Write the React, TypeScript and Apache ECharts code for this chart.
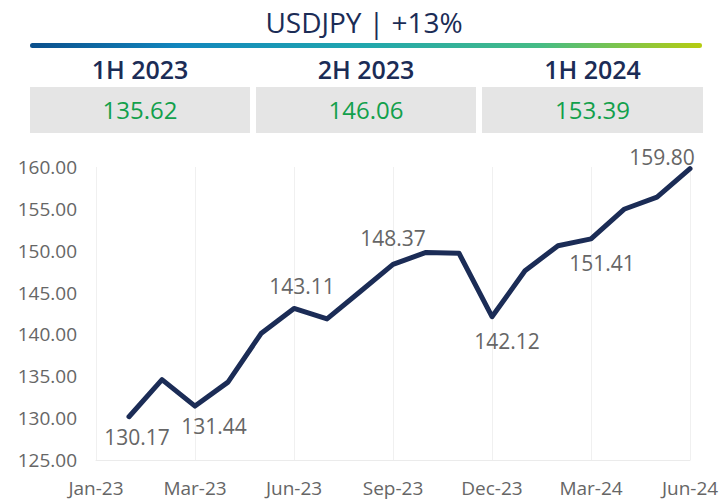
import React, { useEffect, useRef } from "react";
import * as echarts from "echarts";

const titleText = "USDJPY | +13%";
const periodLabels = ["1H 2023", "2H 2023", "1H 2024"];
const periodValues = [135.62, 146.06, 153.39];

const categories = [
  "Dec-22", "Jan-23", "Feb-23", "Mar-23", "Apr-23", "May-23", "Jun-23",
  "Jul-23", "Aug-23", "Sep-23", "Oct-23", "Nov-23", "Dec-23",
  "Jan-24", "Feb-24", "Mar-24", "Apr-24", "May-24", "Jun-24",
];
const values: (number | null)[] = [
  null, 130.17, 134.6, 131.44, 134.3, 140.1, 143.11,
  141.85, 145.1, 148.37, 149.8, 149.7, 142.12,
  147.6, 150.6, 151.41, 154.95, 156.4, 159.8,
];
const xTickLabels = ["Jan-23", "Mar-23", "Jun-23", "Sep-23", "Dec-23", "Mar-24", "Jun-24"];
const yMin = 125;
const yMax = 160;
const yStep = 5;

// which points carry a value label, and where (offset of label centre from the point)
const labelOffsets: Record<number, [number, number]> = {
  1: [8, 20],
  3: [19, 20],
  6: [8, -22],
  9: [0, -26],
  12: [15, 24],
  15: [11, 24],
  18: [-28, -12],
};

const FONT = "'Open Sans', 'Noto Sans', sans-serif";
const NAVY = "#1B2C56";
const GREY_TEXT = "#666666";
const GREEN = "#12A04C";

export default function App() {
  const ref = useRef<HTMLDivElement>(null);

  useEffect(() => {
    document.body.style.margin = "0";
    if (!ref.current) return;
    const chart = echarts.init(ref.current, null, { renderer: "svg" });

    const boxes = [
      { x: 30, w: 220 },
      { x: 256, w: 220 },
      { x: 482, w: 221 },
    ];

    const graphic: any[] = [
      {
        type: "text",
        x: 364,
        y: 22,
        style: {
          text: titleText,
          font: `500 28px ${FONT}`,
          fill: NAVY,
          align: "center",
          verticalAlign: "middle",
        },
      },
      {
        type: "rect",
        shape: { x: 30, y: 43, width: 672, height: 5, r: 2.5 },
        style: {
          fill: new echarts.graphic.LinearGradient(0, 0, 1, 0, [
            { offset: 0, color: "#0B4F8C" },
            { offset: 0.22, color: "#1286BD" },
            { offset: 0.49, color: "#20A6AE" },
            { offset: 0.76, color: "#46BC85" },
            { offset: 1, color: "#B6CC10" },
          ]),
        },
      },
    ];
    boxes.forEach((b, i) => {
      graphic.push({
        type: "rect",
        shape: { x: b.x, y: 87, width: b.w, height: 46 },
        style: { fill: "#E5E5E5" },
      });
      graphic.push({
        type: "text",
        x: b.x + b.w / 2,
        y: 69,
        style: {
          text: periodLabels[i],
          font: `600 25px ${FONT}`,
          fill: NAVY,
          align: "center",
          verticalAlign: "middle",
        },
      });
      graphic.push({
        type: "text",
        x: b.x + b.w / 2,
        y: 109,
        style: {
          text: periodValues[i].toFixed(2),
          font: `400 24px ${FONT}`,
          fill: GREEN,
          align: "center",
          verticalAlign: "middle",
        },
      });
    });

    const seriesData = values.map((v, i) => {
      const off = labelOffsets[i];
      if (!off || v === null) return v;
      return {
        value: v,
        label: {
          show: true,
          position: "inside",
          offset: off,
          formatter: (p: any) => Number(p.value).toFixed(2),
        },
      };
    });

    chart.setOption({
      animation: false,
      grid: { left: 96, right: 36, top: 167, bottom: 44, containLabel: false },
      graphic,
      xAxis: {
        type: "category",
        data: categories,
        boundaryGap: false,
        axisLine: { show: true, lineStyle: { color: "#EBEBEB", width: 1 } },
        axisTick: { show: false },
        axisLabel: {
          interval: 2,
          margin: 18,
          color: GREY_TEXT,
          fontFamily: FONT,
          fontSize: 19,
          formatter: (_v: string, idx: number) => xTickLabels[Math.round(idx / 3)] ?? "",
        },
        splitLine: { show: true, interval: 2, lineStyle: { color: "#F0F0F0", width: 1 } },
      },
      yAxis: {
        type: "value",
        min: yMin,
        max: yMax,
        interval: yStep,
        axisLine: { show: false },
        axisTick: { show: false },
        splitLine: { show: false },
        axisLabel: {
          margin: 19,
          color: GREY_TEXT,
          fontFamily: FONT,
          fontSize: 19,
          formatter: (v: number) => v.toFixed(2),
        },
      },
      series: [
        {
          type: "line",
          data: seriesData,
          symbol: "circle",
          symbolSize: 1,
          showSymbol: true,
          connectNulls: false,
          lineStyle: { color: NAVY, width: 5, join: "round", cap: "round" },
          itemStyle: { color: NAVY },
          label: {
            show: false,
            color: GREY_TEXT,
            fontFamily: FONT,
            fontSize: 21,
            align: "center",
            verticalAlign: "middle",
          },
          emphasis: { disabled: true },
        },
      ],
    });

    return () => chart.dispose();
  }, []);

  return <div ref={ref} style={{ width: 726, height: 504 }} />;
}
